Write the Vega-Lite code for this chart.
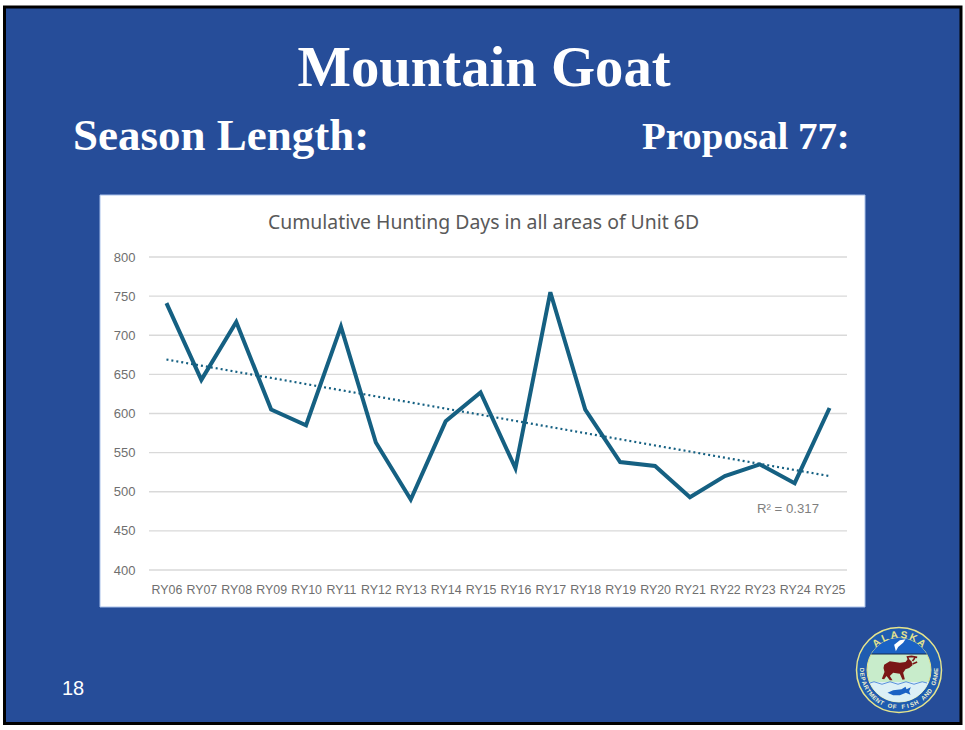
{"$schema":"https://vega.github.io/schema/vega-lite/v6.json","width":698,"height":313,"autosize":"none","padding":{"left":149,"top":257,"right":118,"bottom":160},"background":"#ffffff","data":{"values":[{}]},"datasets":{"days":[{"year":"RY06","days":741},{"year":"RY07","days":643},{"year":"RY08","days":717},{"year":"RY09","days":605},{"year":"RY10","days":585},{"year":"RY11","days":711},{"year":"RY12","days":563},{"year":"RY13","days":490},{"year":"RY14","days":590},{"year":"RY15","days":627},{"year":"RY16","days":530},{"year":"RY17","days":755},{"year":"RY18","days":605},{"year":"RY19","days":538},{"year":"RY20","days":533},{"year":"RY21","days":493},{"year":"RY22","days":520},{"year":"RY23","days":535},{"year":"RY24","days":511},{"year":"RY25","days":607}],"trend":[{"year":"RY06","days":669},{"year":"RY25","days":520}],"grid":[{"v":400},{"v":450},{"v":500},{"v":550},{"v":600},{"v":650},{"v":700},{"v":750},{"v":800}]},"config":{"view":{"stroke":null}},"layer":[
{"mark":{"type":"rect","x":-144.5,"x2":812,"y":-250,"y2":466.5,"fill":"#264d99","stroke":"#000000","strokeWidth":3},"encoding":{}},
{"mark":{"type":"rect","x":-49,"x2":716,"y":-62,"y2":350,"fill":"#ffffff","stroke":"#a9c1ea","strokeWidth":1},"encoding":{}},
{"mark":{"type":"text","x":335,"y":-188,"text":"Mountain Goat","font":"Liberation Serif","fontWeight":"bold","fontSize":56.7,"fill":"#ffffff","align":"center","baseline":"middle"},"encoding":{}},
{"mark":{"type":"text","x":-76,"y":-121,"text":"Season Length:","font":"Liberation Serif","fontWeight":"bold","fontSize":45,"fill":"#ffffff","align":"left","baseline":"middle"},"encoding":{}},
{"mark":{"type":"text","x":493,"y":-120,"text":"Proposal 77:","font":"Liberation Serif","fontWeight":"bold","fontSize":38.9,"fill":"#ffffff","align":"left","baseline":"middle"},"encoding":{}},
{"mark":{"type":"text","x":-76,"y":432,"text":"18","font":"Liberation Sans","fontSize":20,"fill":"#ffffff","align":"center","baseline":"middle"},"encoding":{}},
{"mark":{"type":"text","x":334.5,"y":-34,"text":"Cumulative Hunting Days in all areas of Unit 6D","font":"Noto Sans","fontSize":19.4,"fill":"#595959","align":"center","baseline":"middle"},"encoding":{}},
{"mark":{"type":"text","x":639,"y":252,"text":"R² = 0.317","font":"Liberation Sans","fontSize":13.2,"fill":"#7f7f7f","align":"center","baseline":"middle"},"encoding":{}},
{"data":{"name":"grid"},"mark":{"type":"rule","stroke":"#d9d9d9","strokeWidth":1.3},"encoding":{"y":{"field":"v","type":"quantitative","scale":{"domain":[400,800]},"axis":{"values":[400,450,500,550,600,650,700,750,800],"tickCount":9,"labelOverlap":false,"labelSeparation":0,"labelBound":false,"grid":false,"domain":false,"ticks":false,"title":null,"zindex":1,"labelFont":"Liberation Sans","labelFontSize":13,"labelColor":"#6f6f6f","labelPadding":14}}}},
{"data":{"name":"trend"},"mark":{"type":"line","stroke":"#156082","strokeWidth":2.2,"strokeDash":[2,3]},"encoding":{"x":{"field":"year","type":"nominal"},"y":{"field":"days","type":"quantitative"}}},
{"data":{"name":"days"},"mark":{"type":"line","stroke":"#156082","strokeWidth":4,"strokeJoin":"miter"},"encoding":{"x":{"field":"year","type":"nominal","scale":{"type":"point","padding":0.5},"axis":{"labelAngle":0,"labelAlign":"center","labelBaseline":"top","labelOverlap":false,"domain":false,"ticks":false,"grid":false,"title":null,"zindex":1,"labelFont":"Liberation Sans","labelFontSize":12.4,"labelColor":"#6f6f6f","labelPadding":13}},"y":{"field":"days","type":"quantitative","axis":{"values":[400,450,500,550,600,650,700,750,800],"tickCount":9,"labelOverlap":false,"labelSeparation":0,"labelBound":false,"grid":false,"domain":false,"ticks":false,"title":null,"zindex":1,"labelFont":"Liberation Sans","labelFontSize":13,"labelColor":"#6f6f6f","labelPadding":14}}}},
{"mark":{"type":"arc","x":750,"y":413,"radius":42.5,"radius2":0,"theta":0,"theta2":6.2832,"fill":"#1f5cb0","stroke":"#e6e48c","strokeWidth":1.5},"encoding":{}},
{"mark":{"type":"arc","x":750,"y":413,"radius":32,"radius2":0,"theta":0,"theta2":6.2832,"fill":"#c8eccb","stroke":"#e6e48c","strokeWidth":1},"encoding":{}},
{"mark":{"type":"point","x":750,"y":413,"size":10000,"filled":true,"opacity":1,"fill":"#1b62c4","stroke":null,"shape":"M-.554,-.32 A.64,.64 0 0 1 .554,-.32 Z"},"encoding":{}},
{"mark":{"type":"point","x":750,"y":413,"size":10000,"filled":true,"opacity":1,"fill":"#dcf0f6","stroke":null,"shape":"M-.594,.24 A.64,.64 0 0 0 .594,.24 Z"},"encoding":{}},
{"mark":{"type":"point","x":750,"y":413,"size":10000,"filled":false,"stroke":"#12264f","strokeWidth":1,"opacity":1,"shape":"M-.554,-.32 L.554,-.32"},"encoding":{}},
{"mark":{"type":"point","x":750,"y":413,"size":10000,"filled":false,"stroke":"#5a92dc","strokeWidth":1,"opacity":1,"shape":"M-.58,.26 Q-.5,.21 -.42,.26 T-.26,.26 T-.1,.26 T.06,.26 T.22,.26 T.38,.26 T.56,.26"},"encoding":{}},
{"mark":{"type":"point","x":750,"y":413,"size":10000,"filled":true,"opacity":1,"fill":"#ffffff","stroke":null,"shape":"M.13,-.613 L.017,-.593 L-.097,-.507 L-.063,-.373 L-.017,-.46 L.083,-.547 Z"},"encoding":{}},
{"mark":{"type":"point","x":750,"y":413,"size":10000,"filled":true,"opacity":1,"fill":"#7a1616","stroke":null,"shape":"M-.297,-.107 L-.183,-.173 L.017,-.147 L.13,-.16 L.183,-.227 L.25,-.173 L.27,-.093 L.203,-.04 L.13,-.013 L.083,.053 L.117,.187 L.07,.193 L.017,.073 L-.117,.053 L-.183,.12 L-.13,.207 L-.183,.207 L-.25,.12 L-.297,.187 L-.343,.173 L-.29,.04 L-.31,-.04 Z"},"encoding":{}},
{"mark":{"type":"point","x":750,"y":413,"size":10000,"filled":false,"stroke":"#7a1616","strokeWidth":1.6,"opacity":1,"shape":"M.197,-.193 L.17,-.26 L.25,-.273 L.363,-.253 M.27,-.18 L.317,-.24 M.27,-.12 L.363,-.16"},"encoding":{}},
{"mark":{"type":"point","x":750,"y":413,"size":10000,"filled":true,"opacity":1,"fill":"#1b62c4","stroke":null,"shape":"M-.23,.453 L-.117,.407 L.05,.387 L.13,.333 L.15,.387 L.237,.347 L.203,.427 L.23,.493 L.137,.453 L.017,.507 L-.117,.507 Z"},"encoding":{}},
{"mark":{"type":"text","x":727.5,"y":386.2,"text":"A","angle":-40,"font":"Liberation Sans","fontWeight":"bold","fontSize":10,"fill":"#e6e48c","align":"center","baseline":"middle"},"encoding":{}},
{"mark":{"type":"text","x":735.8,"y":381,"text":"L","angle":-24,"font":"Liberation Sans","fontWeight":"bold","fontSize":10,"fill":"#e6e48c","align":"center","baseline":"middle"},"encoding":{}},
{"mark":{"type":"text","x":745.1,"y":378.3,"text":"A","angle":-8,"font":"Liberation Sans","fontWeight":"bold","fontSize":10,"fill":"#e6e48c","align":"center","baseline":"middle"},"encoding":{}},
{"mark":{"type":"text","x":754.9,"y":378.3,"text":"S","angle":8,"font":"Liberation Sans","fontWeight":"bold","fontSize":10,"fill":"#e6e48c","align":"center","baseline":"middle"},"encoding":{}},
{"mark":{"type":"text","x":764.2,"y":381,"text":"K","angle":24,"font":"Liberation Sans","fontWeight":"bold","fontSize":10,"fill":"#e6e48c","align":"center","baseline":"middle"},"encoding":{}},
{"mark":{"type":"text","x":772.5,"y":386.2,"text":"A","angle":40,"font":"Liberation Sans","fontWeight":"bold","fontSize":10,"fill":"#e6e48c","align":"center","baseline":"middle"},"encoding":{}},
{"mark":{"type":"text","x":713,"y":413,"text":"D","angle":90,"font":"Liberation Sans","fontWeight":"bold","fontSize":6,"fill":"#f2f2d0","align":"center","baseline":"middle"},"encoding":{}},
{"mark":{"type":"text","x":713.3,"y":417.4,"text":"E","angle":83,"font":"Liberation Sans","fontWeight":"bold","fontSize":6,"fill":"#f2f2d0","align":"center","baseline":"middle"},"encoding":{}},
{"mark":{"type":"text","x":714.1,"y":421.8,"text":"P","angle":76,"font":"Liberation Sans","fontWeight":"bold","fontSize":6,"fill":"#f2f2d0","align":"center","baseline":"middle"},"encoding":{}},
{"mark":{"type":"text","x":715.4,"y":426.1,"text":"A","angle":69,"font":"Liberation Sans","fontWeight":"bold","fontSize":6,"fill":"#f2f2d0","align":"center","baseline":"middle"},"encoding":{}},
{"mark":{"type":"text","x":717.2,"y":430.2,"text":"R","angle":62,"font":"Liberation Sans","fontWeight":"bold","fontSize":6,"fill":"#f2f2d0","align":"center","baseline":"middle"},"encoding":{}},
{"mark":{"type":"text","x":719.5,"y":434,"text":"T","angle":55,"font":"Liberation Sans","fontWeight":"bold","fontSize":6,"fill":"#f2f2d0","align":"center","baseline":"middle"},"encoding":{}},
{"mark":{"type":"text","x":722.3,"y":437.5,"text":"M","angle":48,"font":"Liberation Sans","fontWeight":"bold","fontSize":6,"fill":"#f2f2d0","align":"center","baseline":"middle"},"encoding":{}},
{"mark":{"type":"text","x":725.5,"y":440.7,"text":"E","angle":41,"font":"Liberation Sans","fontWeight":"bold","fontSize":6,"fill":"#f2f2d0","align":"center","baseline":"middle"},"encoding":{}},
{"mark":{"type":"text","x":729,"y":443.5,"text":"N","angle":35,"font":"Liberation Sans","fontWeight":"bold","fontSize":6,"fill":"#f2f2d0","align":"center","baseline":"middle"},"encoding":{}},
{"mark":{"type":"text","x":732.8,"y":445.8,"text":"T","angle":28,"font":"Liberation Sans","fontWeight":"bold","fontSize":6,"fill":"#f2f2d0","align":"center","baseline":"middle"},"encoding":{}},
{"mark":{"type":"text","x":741.1,"y":448.9,"text":"O","angle":14,"font":"Liberation Sans","fontWeight":"bold","fontSize":6,"fill":"#f2f2d0","align":"center","baseline":"middle"},"encoding":{}},
{"mark":{"type":"text","x":745.5,"y":449.7,"text":"F","angle":7,"font":"Liberation Sans","fontWeight":"bold","fontSize":6,"fill":"#f2f2d0","align":"center","baseline":"middle"},"encoding":{}},
{"mark":{"type":"text","x":754.4,"y":449.7,"text":"F","angle":-7,"font":"Liberation Sans","fontWeight":"bold","fontSize":6,"fill":"#f2f2d0","align":"center","baseline":"middle"},"encoding":{}},
{"mark":{"type":"text","x":758.8,"y":448.9,"text":"I","angle":-14,"font":"Liberation Sans","fontWeight":"bold","fontSize":6,"fill":"#f2f2d0","align":"center","baseline":"middle"},"encoding":{}},
{"mark":{"type":"text","x":763.1,"y":447.6,"text":"S","angle":-21,"font":"Liberation Sans","fontWeight":"bold","fontSize":6,"fill":"#f2f2d0","align":"center","baseline":"middle"},"encoding":{}},
{"mark":{"type":"text","x":767.2,"y":445.8,"text":"H","angle":-28,"font":"Liberation Sans","fontWeight":"bold","fontSize":6,"fill":"#f2f2d0","align":"center","baseline":"middle"},"encoding":{}},
{"mark":{"type":"text","x":774.5,"y":440.7,"text":"A","angle":-41,"font":"Liberation Sans","fontWeight":"bold","fontSize":6,"fill":"#f2f2d0","align":"center","baseline":"middle"},"encoding":{}},
{"mark":{"type":"text","x":777.7,"y":437.5,"text":"N","angle":-48,"font":"Liberation Sans","fontWeight":"bold","fontSize":6,"fill":"#f2f2d0","align":"center","baseline":"middle"},"encoding":{}},
{"mark":{"type":"text","x":780.5,"y":434,"text":"D","angle":-55,"font":"Liberation Sans","fontWeight":"bold","fontSize":6,"fill":"#f2f2d0","align":"center","baseline":"middle"},"encoding":{}},
{"mark":{"type":"text","x":784.6,"y":426.1,"text":"G","angle":-69,"font":"Liberation Sans","fontWeight":"bold","fontSize":6,"fill":"#f2f2d0","align":"center","baseline":"middle"},"encoding":{}},
{"mark":{"type":"text","x":785.9,"y":421.8,"text":"A","angle":-76,"font":"Liberation Sans","fontWeight":"bold","fontSize":6,"fill":"#f2f2d0","align":"center","baseline":"middle"},"encoding":{}},
{"mark":{"type":"text","x":786.7,"y":417.4,"text":"M","angle":-83,"font":"Liberation Sans","fontWeight":"bold","fontSize":6,"fill":"#f2f2d0","align":"center","baseline":"middle"},"encoding":{}},
{"mark":{"type":"text","x":787,"y":413,"text":"E","angle":-90,"font":"Liberation Sans","fontWeight":"bold","fontSize":6,"fill":"#f2f2d0","align":"center","baseline":"middle"},"encoding":{}}
]}
